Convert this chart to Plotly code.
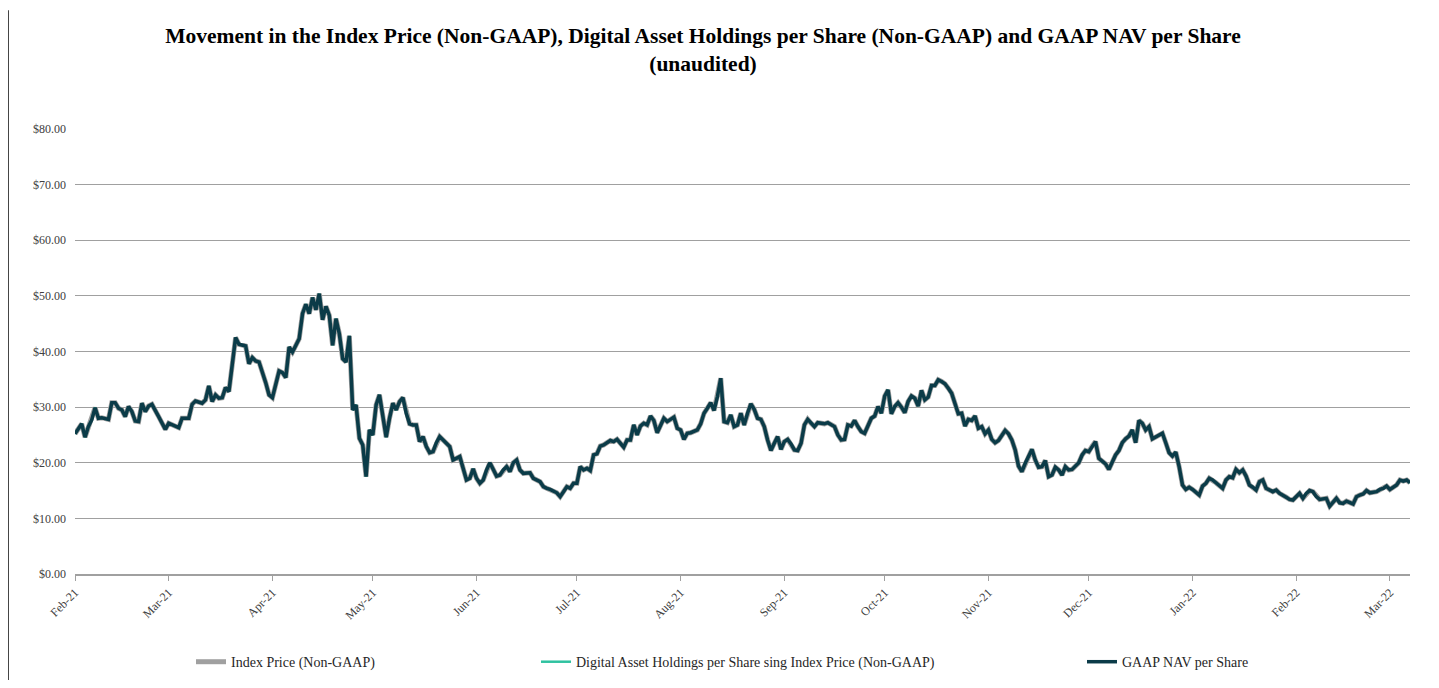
import pandas as pd
import plotly.graph_objects as go

# ---- data ----
start_date = "2021-02-01"
day_offsets = [
    0, 2, 3, 4, 5, 6, 7, 8, 10, 11, 12, 13, 14, 15, 16, 17, 18, 19, 20, 21, 22, 23, 25, 27, 28,
    31, 32, 34, 35, 36, 38, 39, 40, 41, 42, 43, 44, 45, 46, 47, 48, 49, 51, 52, 53, 54, 55, 57,
    58, 59, 61, 62, 63, 64, 65, 67, 68, 69, 70, 71, 72, 73, 74, 75, 76, 77, 78, 79, 80, 81, 82,
    83, 84, 85, 86, 87, 88, 89, 90, 91, 92, 93, 94, 95, 96, 97, 98, 99, 100, 101, 102, 103, 104,
    105, 106, 107, 108, 109, 111, 112, 113, 114, 115, 116, 117, 118, 119, 120, 121, 122, 123, 124,
    125, 126, 127, 128, 129, 130, 131, 132, 133, 134, 136, 137, 139, 140, 141, 142, 144, 145, 146,
    147, 148, 149, 150, 151, 152, 153, 154, 155, 156, 157, 158, 160, 161, 162, 164, 165, 166, 167,
    168, 169, 170, 171, 172, 173, 174, 175, 176, 177, 179, 180, 181, 182, 183, 184, 186, 187, 188,
    189, 190, 191, 192, 193, 194, 195, 196, 197, 198, 199, 200, 201, 202, 203, 204, 205, 206, 207,
    208, 209, 210, 211, 212, 213, 214, 215, 216, 217, 218, 219, 220, 221, 222, 224, 225, 227, 228,
    229, 230, 231, 232, 233, 234, 235, 236, 237, 238, 239, 240, 241, 242, 243, 244, 245, 246, 247,
    248, 249, 250, 251, 252, 253, 254, 255, 256, 257, 258, 259, 260, 261, 262, 264, 265, 266, 267,
    268, 269, 270, 271, 272, 273, 274, 275, 276, 278, 279, 280, 281, 282, 283, 284, 286, 287, 288,
    289, 290, 291, 292, 293, 294, 295, 296, 297, 298, 300, 301, 302, 303, 304, 305, 306, 307, 308,
    309, 310, 311, 312, 313, 314, 315, 316, 317, 318, 319, 320, 321, 322, 323, 325, 326, 327, 328,
    329, 330, 331, 332, 333, 334, 336, 337, 338, 339, 340, 341, 343, 344, 345, 346, 347, 348, 349,
    350, 351, 352, 353, 354, 355, 356, 358, 359, 360, 362, 363, 364, 365, 366, 367, 368, 369, 370,
    371, 372, 374, 375, 377, 378, 379, 380, 382, 383, 384, 385, 386, 387, 389, 390, 391, 392, 393,
    394, 395, 396, 397, 398, 399,
]
index_price = [
    25.2, 27.0, 24.6, 26.5, 27.7, 29.9, 28.0, 28.1, 27.8, 30.8, 30.8, 29.8, 29.5, 28.3, 30.1, 29.2, 27.5, 27.4, 30.7, 29.2, 30.2, 30.5, 28.3, 26.0, 27.1,
    26.3, 28.0, 28.0, 30.5, 31.1, 30.7, 31.3, 33.8, 31.0, 32.2, 31.6, 31.7, 33.5, 32.8, 37.2, 42.5, 41.3, 41.0, 37.8, 38.9, 38.3, 38.1, 34.4,
    32.2, 31.7, 36.5, 36.2, 35.3, 40.8, 39.9, 42.3, 46.8, 48.5, 46.8, 49.7, 47.5, 50.4, 45.7, 48.1, 46.5, 41.1, 45.9, 43.2, 38.7, 38.1, 42.8,
    29.5, 30.4, 24.4, 23.2, 17.5, 25.9, 25.0, 30.4, 32.2, 28.3, 24.6, 28.0, 30.7, 29.5, 31.0, 31.7, 28.9, 27.0, 26.8, 26.8, 23.8, 24.7,
    22.9, 21.8, 22.0, 23.6, 24.7, 23.5, 22.9, 20.5, 20.8, 21.1, 19.0, 16.9, 17.2, 18.9, 17.2, 16.3, 16.9, 18.7, 20.0,
    18.8, 17.6, 17.8, 18.7, 19.3, 18.4, 20.0, 20.5, 18.7, 18.1, 18.2, 17.2, 16.6, 15.7, 15.4, 15.2, 14.6, 13.9, 14.8,
    15.7, 15.4, 16.3, 16.3, 19.3, 18.7, 19.0, 18.6, 21.4, 21.6, 23.0, 23.2, 24.0, 23.8, 24.2, 22.8, 24.1, 24.1, 26.8,
    25.0, 26.6, 27.1, 26.8, 28.4, 27.6, 25.4, 26.8, 28.0, 27.4, 28.2, 26.2, 25.9, 24.2, 25.3, 25.4, 25.9, 27.0, 28.9,
    29.8, 30.8, 29.4, 31.9, 35.2, 27.4, 27.2, 28.6, 26.5, 26.8, 28.9, 26.8, 28.9, 30.6, 29.6, 28.0, 27.8, 26.5, 24.1,
    22.2, 23.5, 24.7, 22.4, 23.8, 24.2, 23.4, 22.3, 22.2, 23.5, 26.8, 27.8, 27.1, 26.5, 27.2, 27.0, 27.2, 26.5, 25.0,
    24.1, 24.2, 26.8, 26.6, 27.6, 26.5, 25.6, 25.3, 26.8, 28.0, 28.4, 30.1, 28.9, 32.0, 33.1, 28.8, 30.1, 30.8, 30.0,
    29.0, 31.0, 32.0, 31.6, 30.2, 33.0, 31.3, 31.8, 33.9, 33.9, 34.9, 34.6, 34.2, 33.4, 32.5, 28.8, 28.9, 26.6, 27.8,
    27.6, 28.4, 26.2, 26.5, 25.2, 25.9, 24.2, 23.6, 24.0, 25.8, 25.2, 24.1, 22.3, 19.4, 18.4, 19.9, 22.4, 20.5, 19.2,
    19.3, 20.4, 17.5, 17.8, 19.2, 18.7, 17.8, 19.3, 18.7, 18.8, 20.0, 21.4, 22.2, 22.0, 23.0, 23.8, 20.8, 20.2, 19.8,
    18.8, 20.2, 21.4, 22.2, 23.6, 24.3, 24.8, 25.9, 23.6, 27.6, 27.1, 25.9, 26.5, 24.3, 24.6, 25.3, 23.6, 21.8, 21.2,
    21.9, 19.3, 16.0, 15.2, 15.6, 15.2, 14.2, 15.8, 16.3, 17.2, 16.9, 16.4, 15.4, 16.9, 17.5, 17.3, 18.8, 18.2, 18.7,
    17.6, 16.0, 15.6, 15.1, 16.6, 16.9, 15.4, 14.8, 15.1, 14.5, 13.8, 13.4, 13.3, 13.9, 14.5, 13.6, 14.5, 15.0, 14.8,
    13.9, 13.4, 13.6, 12.2, 13.6, 12.8, 12.7, 13.1, 12.6, 13.9, 14.2, 14.4, 15.0, 14.6, 14.8, 15.2, 15.4, 15.8, 15.2,
    15.6, 16.0, 16.9, 16.7, 16.9, 16.4,
]
# The three series overlap throughout the picture
digital_asset_holdings = list(index_price)
gaap_nav = list(index_price)

series_names = [
    "Index Price (Non-GAAP)",
    "Digital Asset Holdings per Share sing Index Price (Non-GAAP)",
    "GAAP NAV per Share",
]
title_text = ("Movement in the Index Price (Non-GAAP), Digital Asset Holdings per Share (Non-GAAP) "
              "and GAAP NAV per Share<br>(unaudited)")

dates = pd.Timestamp(start_date) + pd.to_timedelta(day_offsets, unit="D")

FONT = "Liberation Serif, Times New Roman, serif"
GRAY = "#a0a0a0"
TEAL = "#2fc2a0"
DARK = "#0b3b48"

fig = go.Figure()
fig.add_trace(go.Scatter(x=dates, y=index_price, mode="lines", name=series_names[0],
                         line=dict(color=GRAY, width=5), legend="legend"))
fig.add_trace(go.Scatter(x=dates, y=digital_asset_holdings, mode="lines", name=series_names[1],
                         line=dict(color=TEAL, width=2.5), legend="legend2"))
fig.add_trace(go.Scatter(x=dates, y=gaap_nav, mode="lines", name=series_names[2],
                         line=dict(color=DARK, width=3.5), legend="legend3"))

legend_common = dict(orientation="h", yanchor="middle", y=-0.198, xanchor="left",
                     font=dict(family=FONT, size=14, color="#262626"),
                     bgcolor="rgba(0,0,0,0)", itemwidth=30, tracegroupgap=0)

fig.update_layout(
    width=1423, height=672,
    paper_bgcolor="white", plot_bgcolor="white",
    margin=dict(l=67, r=21, t=121, b=106, autoexpand=False),
    font=dict(family=FONT, color="#404040"),
    title=dict(text=title_text, x=0.4884, xref="container", xanchor="center",
               y=0.948, yref="container", yanchor="top",
               font=dict(family=FONT, size=21.5, color="black", weight="bold")),
    showlegend=True,
    legend=dict(**legend_common, x=0.0869),
    legend2=dict(**legend_common, x=0.3453),
    legend3=dict(**legend_common, x=0.7543),
    xaxis=dict(type="date", range=["2021-02-01", "2022-03-07"],
               tick0="2021-02-01", dtick="M1", tickformat="%b-%y", tickangle=-45,
               ticks="outside", ticklen=5, tickcolor=GRAY,
               showline=True, linecolor=GRAY, linewidth=1.5,
               showgrid=False, zeroline=False,
               tickfont=dict(family=FONT, size=12, color="#404040")),
    yaxis=dict(range=[0, 80], dtick=10, tick0=0, tickprefix="$", tickformat=".2f",
               showgrid=True, gridcolor=GRAY, gridwidth=1.2,
               zeroline=False, showline=False, ticks="",
               ticklabelstandoff=8,
               tickfont=dict(family=FONT, size=12, color="#404040")),
    shapes=[dict(type="line", xref="paper", yref="paper",
                 x0=-0.0502, x1=-0.0502, y0=1.267, y1=-0.26,
                 line=dict(color="black", width=1.5))],
)

fig.write_html("out.html")
